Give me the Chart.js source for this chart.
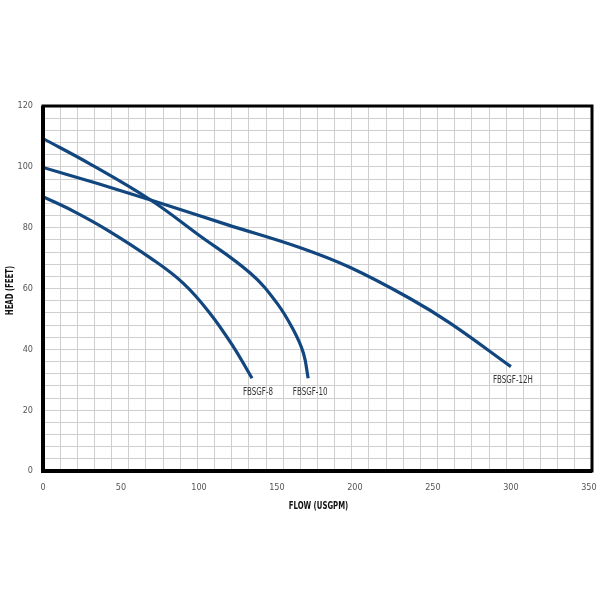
<!DOCTYPE html>
<html>
<head>
<meta charset="utf-8">
<script src="https://cdn.jsdelivr.net/npm/chart.js@4.4.1/dist/chart.umd.min.js"></script>
<style>
    html, body { margin: 0; padding: 0; background: #fff; }
    #wrap { width: 600px; height: 600px; }
</style>
</head>
<body>
<div id="wrap"><canvas id="graphe" width="600" height="600"></canvas></div>
<script>
// Courbes (débit USGPM, hauteur pieds)
const flow8 = [0, 20, 41, 69, 90, 107, 122, 134];
const head8 = [90.2, 85.3, 79.3, 70, 61.7, 51.9, 40.9, 30.5];

const flow10 = [0, 30, 69, 98.5, 133, 150, 160.5, 167, 170];
const head10 = [109.3, 101, 89.1, 78.1, 65, 55.2, 46.4, 38.7, 30.5];

const flow12 = [0, 35, 69, 118, 165, 197, 235, 261, 300];
const head12 = [99.8, 94.5, 89.1, 81.0, 73.4, 66.9, 56.8, 48.6, 34.3];

const names = ['FBSGF-8', 'FBSGF-10', 'FBSGF-12H'];
const xTicks = [0, 50, 100, 150, 200, 250, 300, 350];
const xTitle = 'FLOW (USGPM)';
const yTitle = 'HEAD (FEET)';

const navy = '#12467f';
const font = "'Liberation Sans Narrow', 'DejaVu Sans Condensed', 'Liberation Sans', sans-serif";

function points(xs, ys) {
    return xs.map((x, i) => ({ x: x, y: ys[i] }));
}

function makeSet(label, xs, ys, dx, dy) {
    return {
        label: label,
        data: points(xs, ys),
        showLine: true,
        borderColor: navy,
        borderWidth: 3.2,
        pointRadius: 0,
        tension: 0.4,
        fill: false,
        labelDx: dx,
        labelDy: dy
    };
}

// texte étroit (police condensée simulée)
function narrowText(ctx, text, x, y, rot, squeeze) {
    ctx.save();
    ctx.translate(x, y);
    ctx.rotate(rot);
    ctx.scale(squeeze, 1);
    ctx.fillText(text, 0, 0);
    ctx.restore();
}

// Cadre noir épais + étiquettes des courbes + titres
const framePlugin = {
    id: 'frame',
    afterDatasetsDraw(chart) {
        const ctx = chart.ctx;
        const a = chart.chartArea;
        ctx.save();
        ctx.strokeStyle = '#000';
        ctx.lineWidth = 3;
        ctx.strokeRect(a.left, a.top, a.right - a.left, a.bottom - a.top);
        ctx.lineWidth = 4;
        ctx.beginPath();
        ctx.moveTo(a.left, a.top);
        ctx.lineTo(a.left, a.bottom);
        ctx.lineTo(a.right, a.bottom);
        ctx.stroke();

        ctx.fillStyle = '#333';
        ctx.font = '11px ' + font;
        ctx.textAlign = 'center';
        ctx.textBaseline = 'middle';
        chart.data.datasets.forEach(ds => {
            const last = ds.data[ds.data.length - 1];
            const px = chart.scales.x.getPixelForValue(last.x);
            const py = chart.scales.y.getPixelForValue(last.y);
            narrowText(ctx, ds.label, px + ds.labelDx, py + ds.labelDy, 0, 0.72);
        });

        ctx.fillStyle = '#111';
        ctx.font = 'bold 11px ' + font;
        narrowText(ctx, xTitle, (a.left + a.right) / 2 + 1, a.bottom + 35, 0, 0.7);
        narrowText(ctx, yTitle, 10, (a.top + a.bottom) / 2 + 2, -Math.PI / 2, 0.7);
        ctx.restore();
    }
};

new Chart(document.getElementById('graphe').getContext('2d'), {
    type: 'scatter',
    data: {
        datasets: [
            makeSet(names[0], flow8, head8, 6, 14),
            makeSet(names[1], flow10, head10, 2, 14),
            makeSet(names[2], flow12, head12, 2, 13)
        ]
    },
    options: {
        responsive: false,
        animation: false,
        layout: { padding: { top: 106, right: 8, left: 0, bottom: 0 } },
        plugins: {
            legend: { display: false },
            tooltip: { enabled: false }
        },
        scales: {
            x: {
                type: 'linear',
                position: 'bottom',
                min: 0,
                max: 352,
                afterBuildTicks(axis) {
                    axis.ticks = xTicks.map(v => ({ value: v }));
                },
                afterFit(axis) {
                    axis.height = 129;
                    axis.paddingLeft = 0;
                    axis.paddingRight = 0;
                },
                grid: { display: false, drawTicks: false },
                border: { display: false },
                ticks: {
                    color: '#555',
                    font: { family: font, size: 9 },
                    padding: 11
                }
            },
            xg: {
                type: 'linear',
                position: 'bottom',
                min: 0,
                max: 352,
                afterFit(axis) {
                    axis.height = 0;
                    axis.paddingLeft = 0;
                    axis.paddingRight = 0;
                },
                ticks: { display: false, stepSize: 11 },
                grid: { color: '#cfcfcf', lineWidth: 1, drawTicks: false },
                border: { display: false }
            },
            y: {
                min: 0,
                max: 120,
                afterFit(axis) { axis.width = 43; },
                ticks: {
                    stepSize: 4,
                    autoSkip: false,
                    color: '#555',
                    font: { family: font, size: 9 },
                    padding: 10,
                    callback: v => (v % 20 === 0 ? v : '')
                },
                grid: { color: '#cfcfcf', lineWidth: 1, drawTicks: false },
                border: { display: false }
            }
        }
    },
    plugins: [framePlugin]
});
</script>
</body>
</html>
